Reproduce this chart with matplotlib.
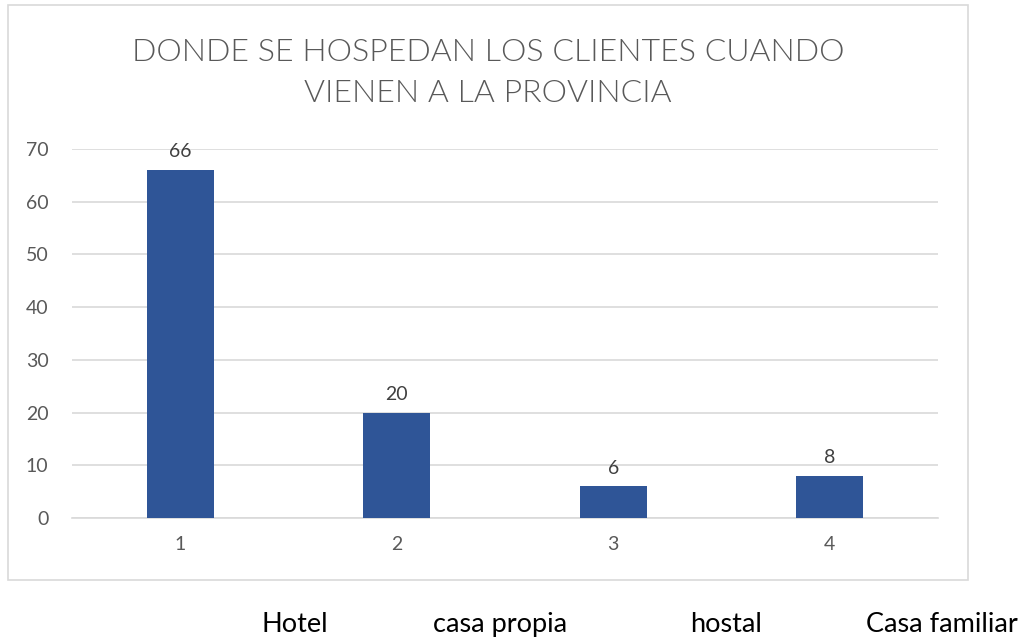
import matplotlib.pyplot as plt
from matplotlib.patches import Rectangle

categories = ["1", "2", "3", "4"]
values = [66, 20, 6, 8]
place_labels = ["Hotel", "casa propia", "hostal", "Casa familiar"]
yticks = [0, 10, 20, 30, 40, 50, 60, 70]

W, H = 1023, 639
plt.rcParams['font.family'] = ['Lato', 'DejaVu Sans']

fig = plt.figure(figsize=(W / 100, H / 100), dpi=100)
fig.patch.set_facecolor("white")

# chart frame
fig.patches.append(Rectangle((8 / W, 1 - 580 / H), (968 - 8) / W, (580 - 5) / H,
                             transform=fig.transFigure, fill=False,
                             edgecolor="#D9D9D9", linewidth=1.2))

ax = fig.add_axes([72 / W, 1 - 518 / H, (938 - 72) / W, (518 - 149) / H])
x = list(range(len(categories)))
bars = ax.bar(x, values, width=0.31, color="#2F5597", zorder=3)
ax.set_xlim(-0.5, len(categories) - 0.5)
ax.set_ylim(0, 70)
ax.set_yticks(yticks)
ax.set_xticks(x)
ax.set_xticklabels(categories)
ax.grid(axis="y", color="#D9D9D9", linewidth=1.2, zorder=0)
for s in ["top", "right", "left"]:
    ax.spines[s].set_visible(False)
ax.spines["bottom"].set_color("#D9D9D9")
ax.spines["bottom"].set_linewidth(1.2)
ax.tick_params(length=0, labelsize=14, colors="#595959")
ax.tick_params(axis="y", pad=17)
ax.tick_params(axis="x", pad=13)

for b, v in zip(bars, values):
    ax.annotate(str(v), (b.get_x() + b.get_width() / 2, v), xytext=(0, 7),
                textcoords="offset points", ha="center", va="bottom",
                fontsize=14, color="#404040")

fig.text(488 / W, 1 - 73 / H, "DONDE SE HOSPEDAN LOS CLIENTES CUANDO\nVIENEN A LA PROVINCIA",
         ha="center", va="center", fontsize=23, fontweight=300,
         color="#595959", linespacing=1.55)

label_x = [262, 433, 690, 866]
for lx, lab in zip(label_x, place_labels):
    fig.text(lx / W, 1 - 632 / H, lab, ha="left", va="baseline", fontsize=19.5, color="black")

fig.savefig("out.png", dpi=100)
